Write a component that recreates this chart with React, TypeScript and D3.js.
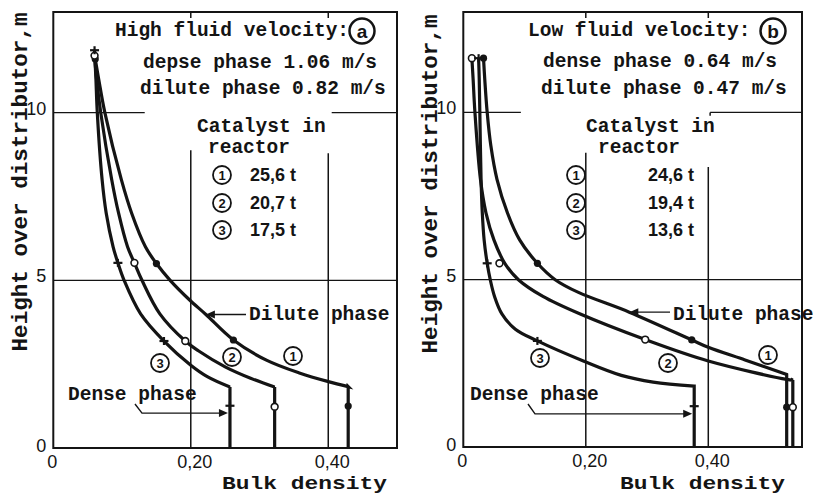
import React from "react";
import * as d3 from "d3";

type P = [number, number];

// ---------- shared axis data ----------
const xTicks = [0, 0.2, 0.4];
const xTickLabels = ["0", "0,20", "0,40"];
const yTicks = [0, 5, 10];
const yTickLabels = ["0", "5", "10"];
const curveIds = ["1", "2", "3"];

// ---------- panel a : high fluid velocity ----------
const aCurve1: P[] = [[0.061, 11.6], [0.066, 11.0], [0.075, 10.0], [0.099, 8.0], [0.114, 7.0], [0.134, 6.0], [0.150, 5.5], [0.170, 5.0], [0.198, 4.42], [0.222, 3.98], [0.262, 3.22], [0.310, 2.62], [0.359, 2.23], [0.400, 1.98], [0.429, 1.83]];
const aCurve2: P[] = [[0.060, 11.7], [0.063, 11.0], [0.069, 10.0], [0.085, 8.0], [0.095, 7.0], [0.108, 6.0], [0.118, 5.52], [0.129, 5.0], [0.155, 4.0], [0.192, 3.19], [0.211, 2.9], [0.250, 2.42], [0.287, 2.08], [0.322, 1.82]];
const aCurve3: P[] = [[0.060, 11.85], [0.062, 11.0], [0.064, 10.0], [0.071, 8.0], [0.077, 7.0], [0.087, 6.0], [0.094, 5.52], [0.103, 5.0], [0.127, 4.0], [0.161, 3.19], [0.200, 2.47], [0.224, 2.13], [0.257, 1.82]];
const aDenseX = [0.429, 0.322, 0.257];
const aDots: P[] = [[0.061, 11.6], [0.150, 5.5], [0.262, 3.22], [0.429, 1.25]];
const aCircles: P[] = [[0.060, 11.7], [0.118, 5.52], [0.192, 3.19], [0.322, 1.23]];
const aPluses: P[] = [[0.060, 11.86], [0.094, 5.52], [0.161, 3.19], [0.257, 1.26]];
const aMasses = ["25,6 t", "20,7 t", "17,5 t"];
const aTitle = ["High fluid velocity:", "depse phase 1.06 m/s", "dilute phase 0.82 m/s"];
const aLetter = "a";

// ---------- panel b : low fluid velocity ----------
const bCurve1: P[] = [[0.033, 11.62], [0.035, 11.0], [0.039, 10.0], [0.045, 9.0], [0.055, 8.0], [0.072, 7.0], [0.092, 6.19], [0.121, 5.49], [0.150, 5.0], [0.188, 4.62], [0.271, 4.03], [0.373, 3.2], [0.400, 2.98], [0.460, 2.6], [0.528, 2.17]];
const bCurve2: P[] = [[0.014, 11.62], [0.016, 11.0], [0.019, 10.0], [0.028, 8.0], [0.037, 7.0], [0.050, 6.19], [0.068, 5.48], [0.090, 5.0], [0.130, 4.5], [0.190, 3.98], [0.297, 3.21], [0.400, 2.57], [0.528, 2.02], [0.538, 2.0]];
const bCurve3: P[] = [[0.025, 11.62], [0.026, 11.0], [0.027, 10.0], [0.029, 8.0], [0.031, 7.0], [0.034, 6.19], [0.039, 5.49], [0.044, 5.0], [0.051, 4.5], [0.063, 3.98], [0.085, 3.52], [0.121, 3.17], [0.196, 2.57], [0.258, 2.14], [0.310, 1.94], [0.377, 1.82]];
const bDenseX = [0.528, 0.538, 0.377];
const bDots: P[] = [[0.033, 11.62], [0.121, 5.49], [0.373, 3.2], [0.528, 1.19]];
const bCircles: P[] = [[0.014, 11.62], [0.059, 5.49], [0.297, 3.21], [0.538, 1.19]];
const bPluses: P[] = [[0.025, 11.62], [0.039, 5.49], [0.121, 3.17], [0.377, 1.22]];
const bMasses = ["24,6 t", "19,4 t", "13,6 t"];
const bTitle = ["Low fluid velocity:", "dense phase 0.64 m/s", "dilute phase 0.47 m/s"];
const bLetter = "b";

const MONO = "'Liberation Mono', 'DejaVu Sans Mono', monospace";
const SANS = "'Liberation Sans', Arial, sans-serif";
const INK = "#141414";

type PanelCfg = {
  curves: P[][];
  denseX: number[];
  dots: P[];
  circles: P[];
  pluses: P[];
  masses: string[];
  title: string[];
  letter: string;
  xMax: number;
  x0: number; x1: number; y0: number; y1: number;
  layout: any;
};

function Circled({ cx, cy, r, label, fs, sw }: { cx: number; cy: number; r: number; label: string; fs: number; sw: number }) {
  return (
    <g>
      <circle cx={cx} cy={cy} r={r} fill="white" stroke={INK} strokeWidth={sw} />
      <text x={cx} y={cy + fs * 0.36} textAnchor="middle" fontFamily={SANS} fontWeight="bold" fontSize={fs} fill={INK}>{label}</text>
    </g>
  );
}

function Panel({ cfg }: { cfg: PanelCfg }) {
  const x = d3.scaleLinear().domain([0, cfg.xMax]).range([cfg.x0, cfg.x1]);
  const y = d3.scaleLinear().domain([0, 13]).range([cfg.y0, cfg.y1]);
  const L = cfg.layout;
  const smooth = d3.line<P>().x(d => x(d[0])).y(d => y(d[1])).curve(d3.curveCatmullRom.alpha(0.5));

  const arrowTip: P = L.diluteTip;
  const tipX = x(arrowTip[0]);
  const tipY = y(arrowTip[1]);
  const denseTipX = x(cfg.denseX[2]) - 2;
  const denseY = y(L.denseH);

  return (
    <g>
      {/* grid lines */}
      {L.hGrid.map((g: any, i: number) => (
        <line key={"hg" + i} x1={x(g[1])} x2={x(g[2])} y1={y(g[0])} y2={y(g[0])} stroke={INK} strokeWidth={1.3} />
      ))}
      {L.vGrid.map((g: any, i: number) => (
        <line key={"vg" + i} x1={x(g[0])} x2={x(g[0])} y1={y(g[1])} y2={y(g[2])} stroke={INK} strokeWidth={1.5} />
      ))}
      {xTicks.slice(1).map((t, i) => (
        <line key={"tt" + i} x1={x(t)} x2={x(t)} y1={cfg.y1} y2={cfg.y1 + 6} stroke={INK} strokeWidth={1.5} />
      ))}
      {/* frame */}
      <rect x={cfg.x0} y={cfg.y1} width={cfg.x1 - cfg.x0} height={cfg.y0 - cfg.y1} fill="none" stroke={INK} strokeWidth={2} />

      {/* curves */}
      {cfg.curves.map((c, i) => {
        const last = c[c.length - 1];
        const d = smooth(c) + `L${x(cfg.denseX[i])},${y(last[1])}L${x(cfg.denseX[i])},${y(0)}`;
        return <path key={"c" + i} d={d} fill="none" stroke={INK} strokeWidth={3.2} strokeLinejoin="miter" />;
      })}

      {/* markers */}
      {cfg.dots.map((p, i) => <circle key={"d" + i} cx={x(p[0])} cy={y(p[1])} r={3.6} fill={INK} />)}
      {cfg.circles.map((p, i) => <circle key={"o" + i} cx={x(p[0])} cy={y(p[1])} r={3.4} fill="white" stroke={INK} strokeWidth={1.6} />)}
      {cfg.pluses.map((p, i) => (
        <g key={"p" + i}>
          <line x1={x(p[0]) - 4.5} x2={x(p[0]) + 4.5} y1={y(p[1])} y2={y(p[1])} stroke={INK} strokeWidth={2.2} />
          <line x1={x(p[0])} x2={x(p[0])} y1={y(p[1]) - 4} y2={y(p[1]) + 4} stroke={INK} strokeWidth={2.2} />
        </g>
      ))}

      {/* tick labels */}
      {xTicks.map((t, i) => (
        <text key={"xl" + i} x={x(t) + (i === 0 ? -1 : 4)} y={L.xLabelY} textAnchor="middle" fontFamily={SANS} fontSize={18} fill={INK}>{xTickLabels[i]}</text>
      ))}
      {yTicks.map((t, i) => (
        <text key={"yl" + i} x={cfg.x0 - 7} y={y(t) + (i === 0 ? 4 : 2)} textAnchor="end" fontFamily={SANS} fontSize={18} fill={INK}>{yTickLabels[i]}</text>
      ))}

      {/* axis titles */}
      <text x={L.xTitle[0]} y={L.xTitle[1]} textLength={165} lengthAdjust="spacingAndGlyphs" fontFamily={MONO} fontWeight="bold" fontSize={18} fill={INK}>Bulk density</text>
      <text transform={`translate(${L.yTitle[0]},${L.yTitle[1]}) rotate(-90)`} textAnchor="middle" fontFamily={MONO} fontWeight="bold" fontSize={22.6} fill={INK}>Height over distributor,m</text>

      {/* title block */}
      {cfg.title.map((t, i) => (
        <text key={"ti" + i} x={L.titleX[i]} y={L.titleY[i]} fontFamily={MONO} fontWeight="bold" fontSize={19.5} fill={INK}>{t}</text>
      ))}
      <Circled cx={L.letter[0]} cy={L.letter[1]} r={12.5} label={cfg.letter} fs={19} sw={2.5} />
      <text x={L.cat[0]} y={L.cat[1]} fontFamily={MONO} fontWeight="bold" fontSize={19.5} fill={INK}>Catalyst in</text>
      <text x={L.react[0]} y={L.react[1]} fontFamily={MONO} fontWeight="bold" fontSize={19.5} fill={INK}>reactor</text>
      {curveIds.map((id, i) => (
        <g key={"lg" + i}>
          <Circled cx={L.legCx} cy={L.legCy[i]} r={9} label={id} fs={13} sw={1.8} />
          <text x={L.legTx} y={L.legCy[i] + 6} fontFamily={SANS} fontWeight="bold" fontSize={18} fill={INK}>{cfg.masses[i]}</text>
        </g>
      ))}

      {/* curve labels */}
      {curveIds.map((id, i) => (
        <Circled key={"cl" + i} cx={L.curveLabels[i][0]} cy={L.curveLabels[i][1]} r={9} label={id} fs={13} sw={1.8} />
      ))}

      {/* dilute phase leader */}
      <line x1={tipX + 6} x2={L.diluteText[0] - 3} y1={tipY} y2={tipY} stroke={INK} strokeWidth={1.4} />
      <path d={`M${tipX},${tipY}L${tipX + 9},${tipY - 4}L${tipX + 9},${tipY + 4}Z`} fill={INK} />
      <text x={L.diluteText[0]} y={L.diluteText[1]} fontFamily={MONO} fontWeight="bold" fontSize={19.5} fill={INK}>Dilute phase</text>

      {/* dense phase leader */}
      <text x={L.denseText[0]} y={L.denseText[1]} fontFamily={MONO} fontWeight="bold" fontSize={19.5} fill={INK}>Dense phase</text>
      <path d={`M${L.denseLeader[0]},${L.denseLeader[1]}L${L.denseLeader[0] + 7},${denseY}L${denseTipX - 8},${denseY}`} fill="none" stroke={INK} strokeWidth={1.4} />
      <path d={`M${denseTipX},${denseY}L${denseTipX - 9},${denseY - 4}L${denseTipX - 9},${denseY + 4}Z`} fill={INK} />
    </g>
  );
}

const cfgA: PanelCfg = {
  curves: [aCurve1, aCurve2, aCurve3],
  denseX: aDenseX,
  dots: aDots, circles: aCircles, pluses: aPluses,
  masses: aMasses, title: aTitle, letter: aLetter,
  xMax: 0.5, x0: 53.3, x1: 397, y0: 448, y1: 12,
  layout: {
    hGrid: [[10, 0, 0.133], [10, 0.405, 0.5], [5, 0, 0.5]],
    vGrid: [[0.2, 0, 8.88], [0.4, 0, 8.79]],
    xLabelY: 468,
    xTitle: [222, 489],
    yTitle: [27, 182],
    titleX: [115, 143, 140],
    titleY: [36, 68, 94],
    letter: [362, 31],
    cat: [197, 132],
    react: [208, 153],
    legCx: 222,
    legCy: [175, 203, 230],
    legTx: 250,
    curveLabels: [[293, 356], [232, 357], [160, 363]],
    diluteTip: [0.222, 3.98],
    diluteText: [249, 320],
    denseText: [68, 400],
    denseLeader: [135, 404],
    denseH: 1.04,
  },
};

const cfgB: PanelCfg = {
  curves: [bCurve1, bCurve2, bCurve3],
  denseX: bDenseX,
  dots: bDots, circles: bCircles, pluses: bPluses,
  masses: bMasses, title: bTitle, letter: bLetter,
  xMax: 0.553, x0: 463.3, x1: 802, y0: 447, y1: 12,
  layout: {
    hGrid: [[10, 0, 0.094], [10, 0.403, 0.553], [5, 0, 0.553]],
    vGrid: [[0.2, 0, 8.79], [0.4, 0, 8.37], [0.403, 9.9, 10]],
    xLabelY: 467,
    xTitle: [620, 489],
    yTitle: [437, 184],
    titleX: [528, 543, 541],
    titleY: [36, 67, 94],
    letter: [773, 31],
    cat: [586, 132],
    react: [598, 153],
    legCx: 576,
    legCy: [175, 203, 230],
    legTx: 648,
    curveLabels: [[768, 355], [668, 363], [540, 358]],
    diluteTip: [0.271, 4.03],
    diluteText: [673, 320],
    denseText: [470, 400],
    denseLeader: [528, 404],
    denseH: 0.99,
  },
};

export default function App() {
  return (
    <svg width={813} height={494} style={{ position: "absolute", left: 0, top: 0, background: "white" }}>
      <rect x={0} y={0} width={813} height={494} fill="white" />
      <Panel cfg={cfgA} />
      <Panel cfg={cfgB} />
    </svg>
  );
}
